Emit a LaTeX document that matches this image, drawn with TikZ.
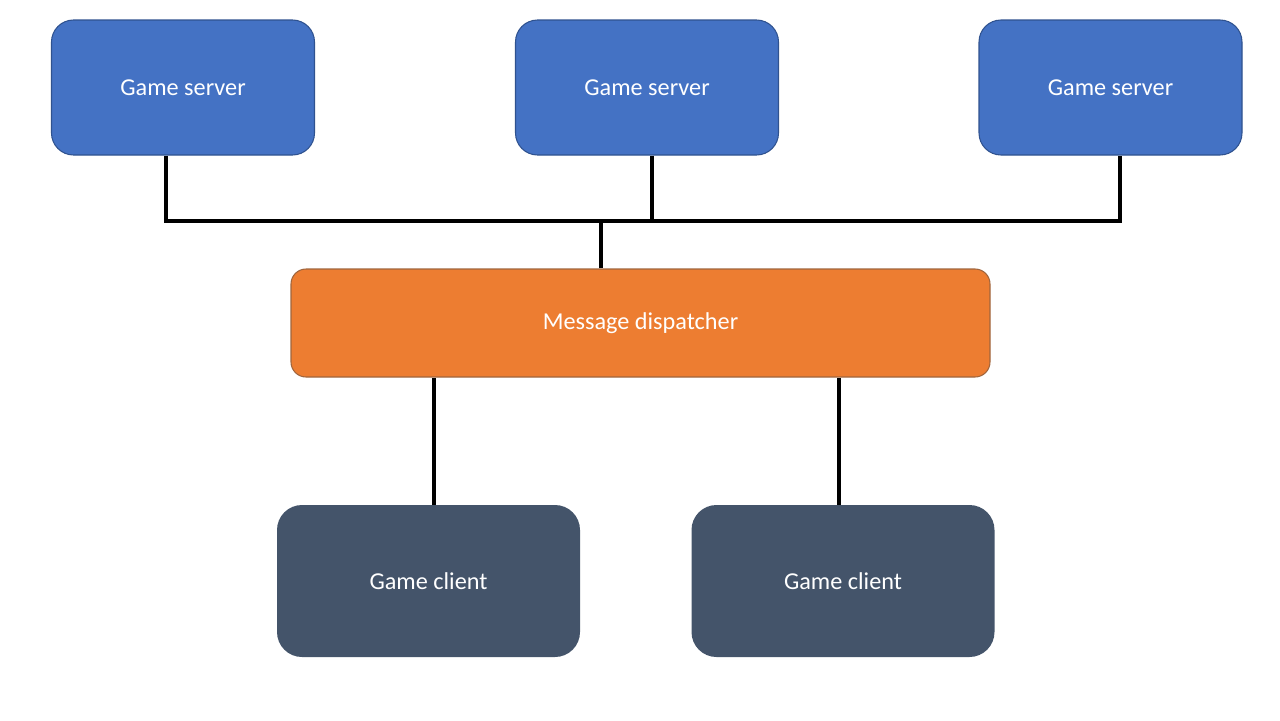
\documentclass[tikz,border=0pt]{standalone}
\usepackage{fontspec}
\setmainfont{Carlito}
\usepackage{tikz}
\usetikzlibrary{positioning,calc}
\definecolor{serverblue}{HTML}{4472C4}
\definecolor{serverline}{HTML}{2F528F}
\definecolor{dispatchorange}{HTML}{ED7D31}
\definecolor{dispatchline}{HTML}{AE5A21}
\definecolor{clientslate}{HTML}{44546A}

\begin{document}
\begin{tikzpicture}[font=\fontsize{13.8}{16}\selectfont,
  serverbox/.style={draw=serverline, line width=0.6pt, fill=serverblue, text=white, rounded corners=0.44cm,
    minimum width=5.26cm, minimum height=2.7cm, inner sep=0pt},
  dispatchbox/.style={draw=dispatchline!70!gray, line width=0.6pt, fill=dispatchorange, text=white, rounded corners=0.3cm,
    minimum width=13.98cm, minimum height=2.16cm, inner sep=0pt},
  clientbox/.style={fill=clientslate, text=white, rounded corners=0.5cm,
    minimum width=6.06cm, minimum height=3.04cm, inner sep=0pt},
  wire/.style={line width=2.8pt, black}]
\useasboundingbox (0,0) rectangle (25.6,-14.4);
\node[serverbox] (srv1) at (3.66,-1.75) {Game server};
\node[serverbox] (srv2) at (12.94,-1.75) {Game server};
\node[serverbox] (srv3) at (22.21,-1.75) {Game server};
\node[dispatchbox] (disp) at (12.81,-6.46) {Message dispatcher};
\node[clientbox] (cli1) at (8.57,-11.62) {Game client};
\node[clientbox] (cli2) at (16.86,-11.62) {Game client};
% shared bus between the servers and the dispatcher
\coordinate (busL) at (3.32,-4.42);
\coordinate (busR) at (22.40,-4.42);
\draw[wire] (srv1.south -| busL) -- (busL) -- (busR) -- (srv3.south -| busR);
\draw[wire] ([xshift=0.1cm]srv2.south) -- ([xshift=0.1cm]srv2.south |- busL);
\draw[wire] ([xshift=-0.79cm]disp.north) -- ([xshift=-0.79cm]disp.north |- busL);
\draw[wire] (cli1.north -| 8.68,0) -- (disp.south -| 8.68,0);
\draw[wire] (cli2.north -| 16.78,0) -- (disp.south -| 16.78,0);
\end{tikzpicture}
\end{document}
